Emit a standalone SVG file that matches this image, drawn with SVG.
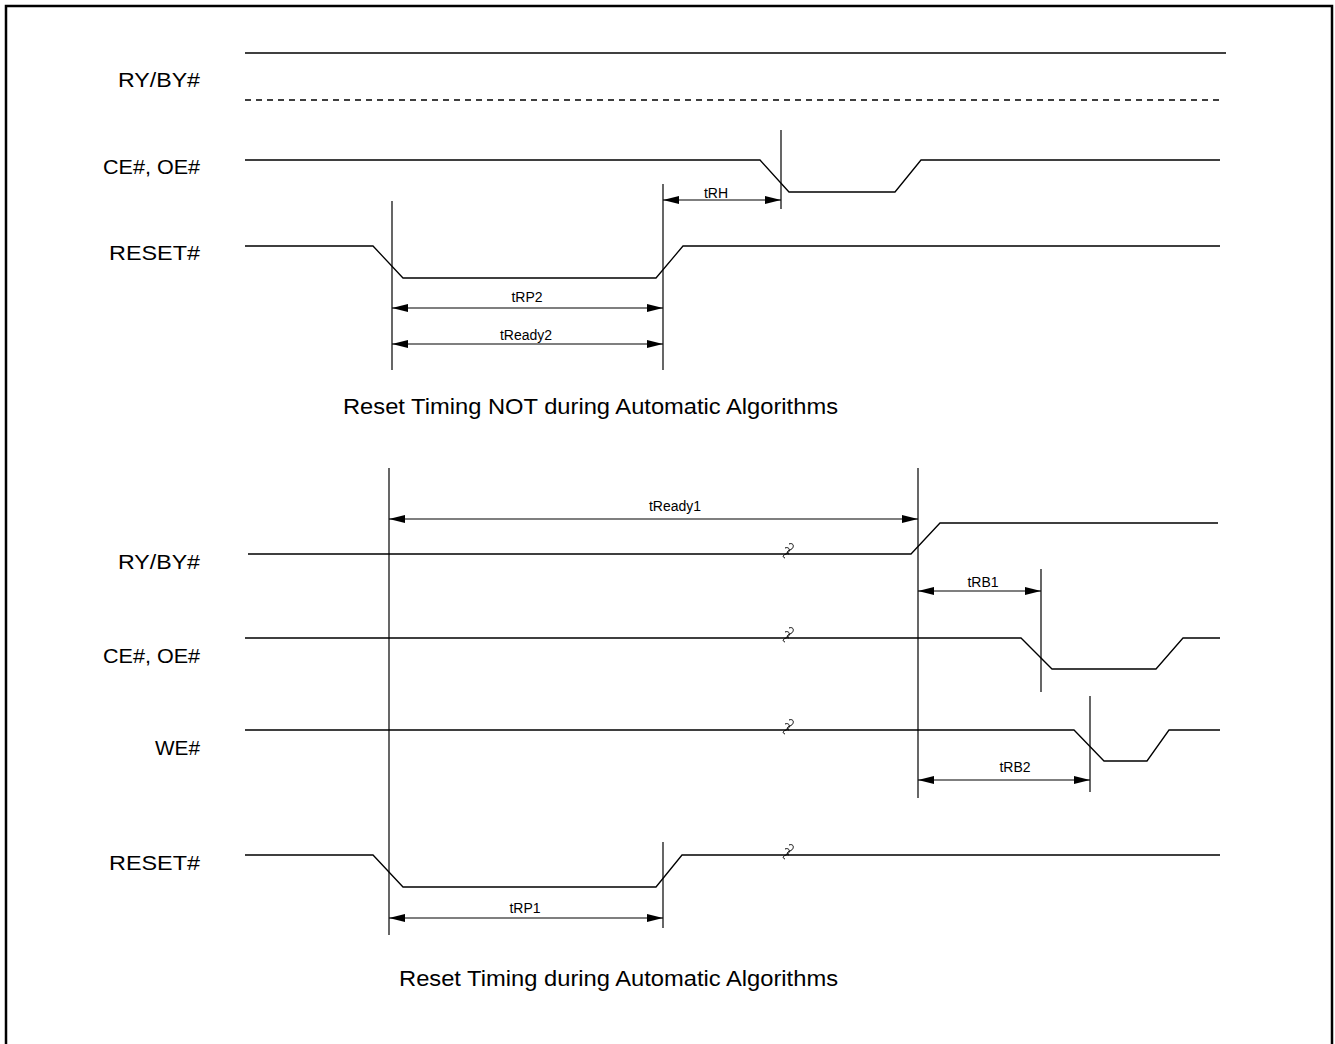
<svg xmlns="http://www.w3.org/2000/svg" width="1335" height="1044" viewBox="0 0 1335 1044">
<defs>
<marker id="ah" viewBox="0 0 16 8" refX="16" refY="4" markerWidth="16" markerHeight="8" markerUnits="userSpaceOnUse" orient="auto-start-reverse">
<path d="M0,0 L16,4 L0,8 Z" fill="#000"/>
</marker>
<g id="brk">
<path d="M0,-8 C5,-10 6,-4 1,-2 C-2,-1 -3,1 0,2" fill="none" stroke="#000" stroke-width="1"/>
<path d="M-4,-4 C1,-6 2,0 -3,2 C-6,3 -7,5 -4,6" fill="none" stroke="#000" stroke-width="1"/>
</g>
</defs>
<style>
.sig{fill:none;stroke:#000;stroke-width:1.3}
.vl{fill:none;stroke:#000;stroke-width:1.2}
.dim{fill:none;stroke:#000;stroke-width:1.2;marker-start:url(#ah);marker-end:url(#ah)}
.lbl{font-family:"Liberation Sans",Arial,sans-serif;font-size:21px;fill:#000}
.cap{font-family:"Liberation Sans",Arial,sans-serif;font-size:22px;fill:#000}
.tm{font-family:"Liberation Sans",Arial,sans-serif;font-size:14px;fill:#000;text-anchor:middle}
</style>
<rect width="1335" height="1044" fill="#fff"/>
<rect x="6" y="6" width="1326" height="1060" fill="none" stroke="#000" stroke-width="2.5"/>

<g id="top-ryby">
<text class="lbl" x="118" y="87" textLength="82" lengthAdjust="spacingAndGlyphs">RY/BY#</text>
<line class="sig" x1="245" y1="53" x2="1226" y2="53"/>
<line class="sig" x1="245" y1="100" x2="1224" y2="100" stroke-dasharray="6,5" stroke="#555"/>
</g>
<g id="top-ceoe">
<text class="lbl" x="103" y="174" textLength="97" lengthAdjust="spacingAndGlyphs">CE#, OE#</text>
<polyline class="sig" points="245,160 760,160 789,192 895,192 921,160 1220,160"/>
</g>
<g id="top-reset">
<text class="lbl" x="109" y="260" textLength="91" lengthAdjust="spacingAndGlyphs">RESET#</text>
<polyline class="sig" points="245,246 373,246 403,278 656,278 683,246 1220,246"/>
</g>
<text class="cap" x="343" y="414" textLength="495" lengthAdjust="spacingAndGlyphs">Reset Timing NOT during Automatic Algorithms</text>

<g id="bot-ryby">
<text class="lbl" x="118" y="569" textLength="82" lengthAdjust="spacingAndGlyphs">RY/BY#</text>
<polyline class="sig" points="248,554 911,554 940,523 1218,523"/>
</g>
<g id="bot-ceoe">
<text class="lbl" x="103" y="663" textLength="97" lengthAdjust="spacingAndGlyphs">CE#, OE#</text>
<polyline class="sig" points="245,638 1021,638 1052,669 1156,669 1183,638 1220,638"/>
</g>
<g id="bot-we">
<text class="lbl" x="155" y="755" textLength="45" lengthAdjust="spacingAndGlyphs">WE#</text>
<polyline class="sig" points="245,730 1074,730 1104,761 1147,761 1169,730 1220,730"/>
</g>
<g id="bot-reset">
<text class="lbl" x="109" y="870" textLength="91" lengthAdjust="spacingAndGlyphs">RESET#</text>
<polyline class="sig" points="245,855 373,855 403,887 656,887 682,855 1220,855"/>
</g>
<text class="cap" x="399" y="986" textLength="439" lengthAdjust="spacingAndGlyphs">Reset Timing during Automatic Algorithms</text>

<g id="connectors">
<line class="vl" x1="781" y1="130" x2="781" y2="209"/>
<line class="vl" x1="392" y1="201" x2="392" y2="370"/>
<line class="vl" x1="663" y1="184" x2="663" y2="370"/>
<line class="dim" x1="663" y1="200" x2="781" y2="200"/>
<line class="dim" x1="392" y1="308" x2="663" y2="308"/>
<line class="dim" x1="392" y1="344" x2="663" y2="344"/>

<line class="vl" x1="389" y1="468" x2="389" y2="935"/>
<line class="vl" x1="918" y1="468" x2="918" y2="798"/>
<line class="vl" x1="1041" y1="569" x2="1041" y2="692"/>
<line class="vl" x1="1090" y1="696" x2="1090" y2="792"/>
<line class="vl" x1="663" y1="842" x2="663" y2="928"/>
<line class="dim" x1="389" y1="519" x2="918" y2="519"/>
<line class="dim" x1="918" y1="591" x2="1041" y2="591"/>
<line class="dim" x1="918" y1="780" x2="1090" y2="780"/>
<line class="dim" x1="389" y1="918" x2="663" y2="918"/>

<use href="#brk" x="789" y="552"/>
<use href="#brk" x="789" y="636"/>
<use href="#brk" x="789" y="728"/>
<use href="#brk" x="789" y="853"/>
</g>
<g id="timing-labels">
<text class="tm" x="716" y="198">tRH</text>
<text class="tm" x="527" y="302">tRP2</text>
<text class="tm" x="526" y="340">tReady2</text>
<text class="tm" x="675" y="511">tReady1</text>
<text class="tm" x="983" y="587">tRB1</text>
<text class="tm" x="1015" y="772">tRB2</text>
<text class="tm" x="525" y="913">tRP1</text>
</g>
</svg>
